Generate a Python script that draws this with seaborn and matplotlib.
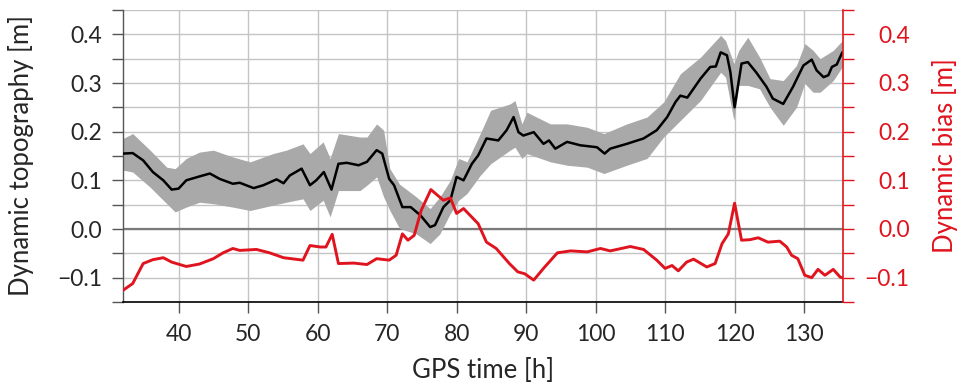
import numpy as np
import pandas as pd
import matplotlib
matplotlib.use("Agg")
import matplotlib.pyplot as plt
from matplotlib.ticker import MultipleLocator
import seaborn as sns

# ---- data ----
t_topo = [32.0, 33.4, 34.9, 36.3, 37.8, 39.0, 40.0, 41.1, 43.0, 44.5, 45.9, 47.8, 48.8, 50.8,
          52.2, 54.1, 55.1, 56.0, 57.7, 58.9, 59.8, 60.9, 62.0, 63.0, 64.2, 65.9, 67.1, 68.5,
          69.3, 70.3, 71.0, 72.2, 73.4, 74.8, 76.2, 76.9, 78.1, 79.1, 80.0, 81.0, 82.2, 83.1,
          84.3, 86.0, 87.2, 88.2, 88.9, 89.6, 91.1, 92.5, 93.3, 94.2, 95.9, 97.8, 100.2, 101.3,
          102.1, 104.5, 106.9, 108.8, 110.3, 111.5, 112.2, 113.2, 115.1, 116.5, 117.3, 118.0,
          118.9, 119.4, 120.0, 121.0, 121.9, 123.1, 124.6, 125.5, 127.0, 128.4, 129.9, 131.1,
          131.8, 132.8, 133.5, 134.0, 134.7, 135.5]
topo = [0.155, 0.156, 0.141, 0.117, 0.100, 0.081, 0.083, 0.100, 0.108, 0.114, 0.103, 0.093,
        0.095, 0.084, 0.090, 0.102, 0.094, 0.110, 0.124, 0.090, 0.100, 0.117, 0.081, 0.134,
        0.136, 0.131, 0.138, 0.162, 0.155, 0.103, 0.090, 0.045, 0.045, 0.028, 0.004, 0.008,
        0.045, 0.059, 0.107, 0.100, 0.134, 0.151, 0.186, 0.182, 0.203, 0.230, 0.199, 0.192,
        0.199, 0.175, 0.182, 0.165, 0.179, 0.172, 0.168, 0.155, 0.165, 0.175, 0.186, 0.203,
        0.230, 0.261, 0.274, 0.270, 0.309, 0.333, 0.334, 0.363, 0.357, 0.322, 0.250, 0.340,
        0.343, 0.322, 0.292, 0.268, 0.257, 0.292, 0.336, 0.348, 0.326, 0.312, 0.316, 0.333,
        0.338, 0.363]

t_band = [32.0, 33.4, 35.9, 38.3, 39.5, 41.1, 43.0, 45.0, 47.8, 50.3, 53.6, 55.5, 57.9, 58.9,
          60.8, 61.8, 63.0, 66.1, 67.1, 68.5, 69.5, 70.4, 71.8, 74.2, 76.2, 77.6, 79.1, 80.3,
          81.5, 83.4, 84.9, 87.7, 88.4, 89.4, 90.1, 93.5, 95.9, 98.8, 101.2, 104.5, 107.4,
          109.8, 112.2, 115.1, 118.0, 118.7, 119.9, 120.6, 121.9, 123.6, 125.1, 127.0, 128.9,
          130.1, 131.3, 132.3, 134.2, 135.5]
band_lo = [0.121, 0.117, 0.086, 0.052, 0.035, 0.045, 0.055, 0.052, 0.045, 0.038, 0.049, 0.055,
           0.062, 0.038, 0.059, 0.025, 0.079, 0.079, 0.090, 0.107, 0.066, 0.038, 0.001, -0.010,
           -0.030, -0.010, 0.032, 0.059, 0.073, 0.110, 0.134, 0.162, 0.168, 0.145, 0.155, 0.138,
           0.131, 0.127, 0.114, 0.131, 0.145, 0.189, 0.223, 0.264, 0.322, 0.312, 0.223, 0.295,
           0.295, 0.288, 0.250, 0.213, 0.250, 0.299, 0.281, 0.281, 0.305, 0.333]
band_hi = [0.186, 0.196, 0.162, 0.127, 0.124, 0.145, 0.158, 0.162, 0.148, 0.138, 0.155, 0.162,
           0.175, 0.155, 0.179, 0.145, 0.196, 0.189, 0.189, 0.216, 0.203, 0.124, 0.092, 0.066,
           0.042, 0.066, 0.100, 0.145, 0.138, 0.196, 0.244, 0.257, 0.264, 0.216, 0.240, 0.216,
           0.216, 0.209, 0.196, 0.216, 0.230, 0.261, 0.319, 0.353, 0.398, 0.387, 0.340, 0.367,
           0.394, 0.353, 0.309, 0.305, 0.336, 0.381, 0.367, 0.350, 0.367, 0.387]

t_bias = [32.0, 33.0, 33.4, 34.9, 36.3, 37.8, 39.0, 41.1, 43.0, 45.0, 46.4, 47.8, 48.8, 51.2,
          53.1, 55.1, 57.9, 58.9, 60.4, 61.2, 62.1, 63.0, 65.2, 67.1, 68.5, 70.3, 71.3, 72.2,
          73.0, 73.9, 74.9, 76.3, 78.1, 79.1, 80.0, 81.0, 83.1, 84.3, 85.7, 87.6, 88.8, 89.8,
          91.1, 92.5, 94.5, 96.4, 98.8, 100.7, 102.1, 105.0, 106.9, 108.8, 110.0, 111.0, 111.9,
          113.1, 114.1, 116.0, 117.2, 118.2, 119.1, 120.0, 121.0, 122.2, 123.4, 124.8, 126.5,
          127.5, 128.2, 129.1, 130.1, 131.1, 132.0, 133.0, 134.2, 135.2, 135.5]
bias = [-0.126, -0.116, -0.112, -0.071, -0.063, -0.059, -0.068, -0.077, -0.072, -0.061, -0.049,
        -0.040, -0.044, -0.042, -0.049, -0.059, -0.064, -0.034, -0.037, -0.037, -0.011, -0.071,
        -0.070, -0.073, -0.061, -0.064, -0.054, -0.010, -0.023, -0.013, 0.038, 0.081, 0.059,
        0.064, 0.032, 0.042, 0.011, -0.027, -0.040, -0.071, -0.088, -0.092, -0.105, -0.081,
        -0.049, -0.045, -0.047, -0.040, -0.045, -0.036, -0.042, -0.064, -0.081, -0.075, -0.086,
        -0.068, -0.062, -0.078, -0.071, -0.030, -0.010, 0.053, -0.023, -0.022, -0.018, -0.027,
        -0.025, -0.037, -0.054, -0.061, -0.095, -0.100, -0.083, -0.095, -0.083, -0.099, -0.100]

y_ticks = [-0.1, 0.0, 0.1, 0.2, 0.3, 0.4]
x_ticks = [40, 50, 60, 70, 80, 90, 100, 110, 120, 130]

# ---- style ----
sns.set_style("white")
plt.rcParams["font.family"] = ["Lato", "DejaVu Sans"]
plt.rcParams["axes.unicode_minus"] = True

RED = "#e0141e"
GRID = "#c4c4c4"
FS_TICK = 16.5
FS_LAB = 18.5

fig = plt.figure(figsize=(9.62, 3.87), dpi=100)
ax = fig.add_axes([123 / 962, 1 - 302 / 387, 720 / 962, 292 / 387])

df_topo = pd.DataFrame({"t": t_topo, "v": topo})
df_bias = pd.DataFrame({"t": t_bias, "v": bias})

ax.fill_between(t_band, band_lo, band_hi, color="#a9a9a9", lw=0, zorder=2)
sns.lineplot(data=df_topo, x="t", y="v", ax=ax, color="black", lw=1.8, zorder=3,
             estimator=None, sort=False)
ax.axhline(0, color="#7a7a7a", lw=1.6, zorder=1.5)

ax.set_xlim(32, 135.6)
ax.set_ylim(-0.15, 0.45)
ax.set_xticks(x_ticks)
ax.set_yticks(y_ticks)
ax.set_yticklabels([f"{v:.1f}".replace("-", "\u2212") for v in y_ticks])
ax.yaxis.set_minor_locator(MultipleLocator(0.05))
ax.grid(True, which="major", axis="both", color=GRID, lw=1.0, zorder=0)
ax.grid(True, which="minor", axis="y", color=GRID, lw=1.0, zorder=0)
ax.set_axisbelow(True)

for s in ["top", "right"]:
    ax.spines[s].set_visible(False)
ax.spines["left"].set_color("#555555")
ax.spines["bottom"].set_color("black")
ax.spines["left"].set_linewidth(1.0)
ax.spines["bottom"].set_linewidth(1.2)
ax.tick_params(axis="y", which="both", direction="out", length=8, width=1, color="#555555",
               labelsize=FS_TICK, pad=7, left=True)
ax.tick_params(axis="x", which="major", direction="out", length=8, width=1, color="#555555",
               labelsize=FS_TICK, pad=8, bottom=True)

ax.set_xlabel("GPS time [h]", fontsize=FS_LAB)
ax.set_ylabel("Dynamic topography [m]", fontsize=FS_LAB)
ax.xaxis.set_label_coords(0.5, -(371 - 302) / 292)
ax.xaxis.label.set_va("center")
ax.yaxis.set_label_coords(-(123 - 21) / 720, 0.5)
ax.yaxis.label.set_va("center")

ax2 = ax.twinx()
sns.lineplot(data=df_bias, x="t", y="v", ax=ax2, color=RED, lw=2.1, zorder=4,
             estimator=None, sort=False)
ax2.set_ylim(-0.15, 0.45)
ax2.set_yticks(y_ticks)
ax2.set_yticklabels([f"{v:.1f}".replace("-", "\u2212") for v in y_ticks], ha="right")
ax2.yaxis.set_minor_locator(MultipleLocator(0.05))
for s in ["top", "left", "bottom"]:
    ax2.spines[s].set_visible(False)
ax2.spines["right"].set_color(RED)
ax2.spines["right"].set_linewidth(1.2)
ax2.tick_params(axis="y", which="both", direction="out", length=8, width=1, color=RED,
                labelcolor=RED, labelsize=FS_TICK, pad=40, right=True)
ax2.set_ylabel("Dynamic bias [m]", fontsize=FS_LAB, color=RED)
ax2.yaxis.set_label_coords((945 - 123) / 720, 0.5)
ax2.yaxis.label.set_va("center")
ax2.grid(False)

fig.savefig("out.png", dpi=100)
